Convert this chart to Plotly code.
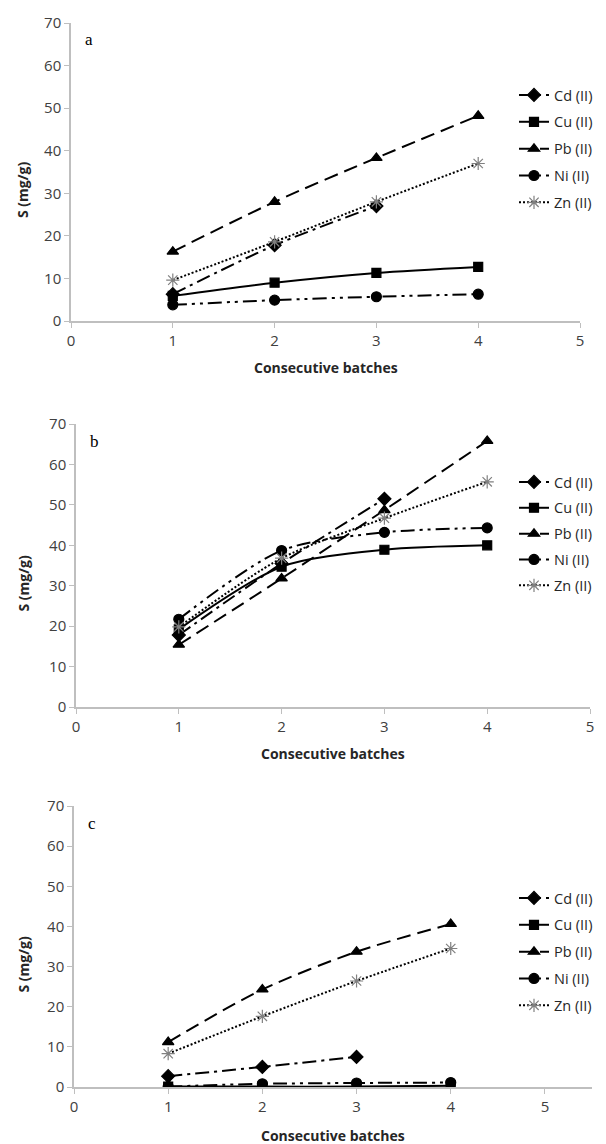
import plotly.graph_objects as go

batches = [1, 2, 3, 4]
metals = ["Cd (II)", "Cu (II)", "Pb (II)", "Ni (II)", "Zn (II)"]
panel_labels = ["a", "b", "c"]

# panel a
a_cd = [6.3, 17.8, 27.0]
a_cu = [5.9, 9.0, 11.3, 12.7]
a_pb = [16.3, 28.0, 38.3, 48.2]
a_ni = [3.8, 4.9, 5.7, 6.3]
a_zn = [9.6, 18.6, 28.0, 37.0]
# panel b
b_cd = [17.8, 35.5, 51.5]
b_cu = [19.2, 34.7, 38.9, 40.0]
b_pb = [15.4, 31.8, 48.7, 65.8]
b_ni = [21.7, 38.7, 43.2, 44.3]
b_zn = [19.8, 36.8, 46.7, 55.7]
# panel c
c_cd = [2.7, 5.0, 7.5]
c_cu = [0.1, 0.1, 0.1, 0.3]
c_pb = [11.2, 24.3, 33.7, 40.6]
c_ni = [0.1, 0.8, 1.0, 1.1]
c_zn = [8.3, 17.6, 26.4, 34.5]

y_ticks = [0, 10, 20, 30, 40, 50, 60, 70]
x_ticks = [0, 1, 2, 3, 4, 5]

panels = [
    [a_cd, a_cu, a_pb, a_ni, a_zn],
    [b_cd, b_cu, b_pb, b_ni, b_zn],
    [c_cd, c_cu, c_pb, c_ni, c_zn],
]

# The page body has an 8px margin, so the figure is sized to fit the window
# and all positions below are given in window pixels, then shifted.
OFF = 8
WIN_W, WIN_H = 606, 1144
W, H = WIN_W - 2 * OFF, WIN_H - OFF


def px(xw):
    return (xw - OFF) / W


def py(yw):
    return 1 - (yw - OFF) / H


FONT = "Open Sans, Liberation Sans, sans-serif"
# window-pixel geometry of each panel: (x_at_0, x_right_end, y_top(70), y_bottom(0), x range max)
geom = [
    (71, 580, 23, 321, 5.0),
    (76, 590, 424, 707, 5.0),
    (74, 592, 806, 1087, 5.5),
]
legend_top = [93, 480, 896]     # centre of first legend row
legend_gap = [5, 4, 5]
xtitle_y = [367, 753, 1135]

styles = [
    dict(dash="14px,5px,3px,5px", symbol="diamond", mcolor="black", msize=10),
    dict(dash="solid", symbol="square", mcolor="black", msize=9),
    dict(dash="14px,7px", symbol="triangle-up", mcolor="black", msize=10),
    dict(dash="14px,5px,3px,5px,3px,5px", symbol="circle", mcolor="black", msize=10),
    dict(dash="2px,2px", symbol="asterisk-open", mcolor="#808080", msize=11),
]

fig = go.Figure()
axis_color = "#bfbfbf"
tick_font = dict(family=FONT, size=15, color="#404040")

for p, series in enumerate(panels):
    suffix = "" if p == 0 else str(p + 1)
    leg = "legend" if p == 0 else "legend" + str(p + 1)
    for i, vals in enumerate(series):
        st = styles[i]
        fig.add_trace(go.Scatter(
            x=batches[:len(vals)], y=vals, name=metals[i],
            mode="lines+markers",
            line=dict(color="black", width=2, dash=st["dash"], shape="spline", smoothing=0.8),
            marker=dict(symbol=st["symbol"], size=st["msize"], color=st["mcolor"],
                        line=dict(color=st["mcolor"], width=1.2)),
            xaxis="x" + suffix, yaxis="y" + suffix,
            legend=leg, legendgroup=f"{p}_{i}",
        ))
    x0, x1, yt, yb, xmax = geom[p]
    xdom = [px(x0), px(x1)]
    ydom = [py(yb), py(yt)]
    fig.update_layout(**{
        "xaxis" + suffix: dict(
            domain=xdom, range=[0, xmax], tickvals=x_ticks, showgrid=False,
            zeroline=False, showline=True, linecolor=axis_color, linewidth=1.5,
            ticks="outside", ticklen=5, tickcolor=axis_color, tickfont=tick_font,
            anchor="y" + suffix, fixedrange=True, automargin=False,
            ticklabeloverflow="allow",
        ),
        "yaxis" + suffix: dict(
            domain=ydom, range=[0, 70], tickvals=y_ticks, showgrid=False,
            zeroline=False, showline=True, linecolor=axis_color, linewidth=1.5,
            ticks="outside", ticklen=5, tickcolor=axis_color, tickfont=tick_font,
            anchor="x" + suffix, fixedrange=True, automargin=False,
        ),
        leg: dict(
            x=1, xanchor="right", y=py(legend_top[p] - 14), yanchor="top",
            font=dict(family=FONT, size=14.5, color="#262626"),
            bgcolor="rgba(0,0,0,0)", traceorder="grouped", tracegroupgap=legend_gap[p],
            itemwidth=30,
        ),
    })
    # x-axis title
    fig.add_annotation(
        text="<b>Consecutive batches</b>", xref="paper", yref="paper",
        x=px((x0 + x1) / 2), y=py(xtitle_y[p]), xanchor="center", yanchor="middle",
        showarrow=False, font=dict(family=FONT, size=14, color="#262626"),
    )
    # y-axis title
    fig.add_annotation(
        text="<b>S (mg/g)</b>", xref="paper", yref="paper", textangle=-90,
        x=px(23), y=py((yt + yb) / 2 + 18), xanchor="center", yanchor="middle",
        showarrow=False, font=dict(family=FONT, size=14, color="#262626"),
    )
    # panel letter
    fig.add_annotation(
        text=panel_labels[p], xref="paper", yref="paper",
        x=px(x0 + 12), y=py(yt + 17), xanchor="left", yanchor="middle",
        showarrow=False, font=dict(family="Liberation Serif, serif", size=17, color="black"),
    )

fig.update_layout(
    width=W, height=H, margin=dict(l=0, r=0, t=0, b=0, autoexpand=False),
    paper_bgcolor="white", plot_bgcolor="white", showlegend=True,
)

fig.write_html("out.html")
